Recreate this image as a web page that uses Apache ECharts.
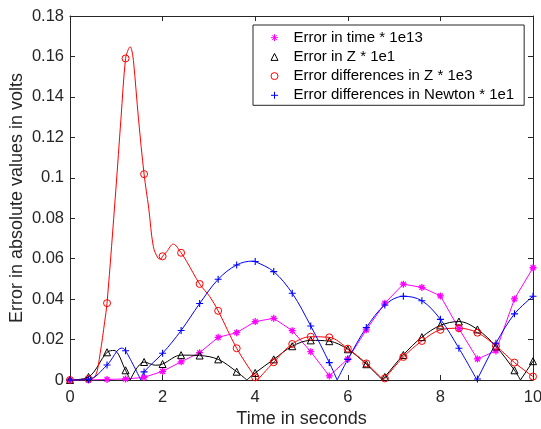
<!DOCTYPE html>
<html><head><meta charset="utf-8">
<script src="https://cdn.jsdelivr.net/npm/echarts@6/dist/echarts.min.js"></script>
<style>html,body{margin:0;padding:0;background:#fff}#c{width:541px;height:429px}</style>
</head><body><div id="c"></div>
<script>
// sample times of the markers (s)
const timeT = [0,0.4,0.8,1.2,1.6,2.0,2.4,2.8,3.2,3.6,4.0,4.4,4.8,5.2,5.6,6.0,6.4,6.8,7.2,7.6,8.0,8.4,8.8,9.2,9.6,10.0];
// Error in time * 1e13
const errTime = [0,0,0.0003,0.0005,0.0013,0.0043,0.009,0.0135,0.0211,0.0234,0.0289,0.0305,0.0244,0.014,0.002,0.0104,0.0248,0.038,0.0474,0.0458,0.0416,0.0254,0.0104,0.0144,0.0401,0.0555];
// Error in Z * 1e1
const errZ = [0,0.0015,0.0137,0.0048,0.0089,0.0079,0.0123,0.0121,0.0102,0.0041,0.0035,0.0102,0.0167,0.0196,0.0192,0.0152,0.0078,0.0015,0.0124,0.0212,0.027,0.0289,0.025,0.0166,0.0048,0.0093];
// Error differences in Z * 1e3
const errDiffZ = [0,0.0005,0.038,0.159,0.1018,0.0612,0.0629,0.0475,0.0342,0.0157,0.0013,0.0088,0.0178,0.0214,0.0211,0.0155,0.0082,0.0008,0.0114,0.0193,0.0248,0.0256,0.0234,0.0168,0.0086,0.0017];
// Error differences in Newton * 1e1
const errNewton = [0,0.0003,0.0074,0.0145,0.004,0.0132,0.0245,0.0378,0.0498,0.0569,0.0586,0.0536,0.0429,0.0267,0.0086,0.0102,0.0259,0.0371,0.0414,0.0392,0.03,0.0157,0.0005,0.0182,0.0327,0.0414];
// extra points of the continuous curves (peaks, dips, zeros)
const errZCurveExtra = [[0.95,0.0146],[1.3,0],[1.85,0.0073],[3.82,0],[6.75,0],[9.73,0]];
const errDiffZCurveExtra = [[0.55,0.002],[0.65,0.013],[0.75,0.029],[0.99,0.094],[1.1,0.129],[1.26,0.1635],[1.3,0.1648],[1.33,0.1635],[1.37,0.158],[1.48,0.129],[1.7,0.085],[1.8,0.066],[1.9,0.0603],[1.96,0.0598],[2.09,0.0635],[2.23,0.0672],[2.52,0.0586],[3.02,0.0412],[4.05,0],[6.77,0]];
const errNewtonCurveExtra = [[1.12,0.0158],[1.53,0],[3.95,0.0588],[5.77,0],[8.79,0]];
// axis ticks
const xTicks = [0,2,4,6,8,10];
const yTicks = [0,0.02,0.04,0.06,0.08,0.1,0.12,0.14,0.16,0.18];
const names = ['Error in time * 1e13','Error in Z * 1e1','Error differences in Z * 1e3','Error differences in Newton * 1e1'];

const FONT = "'Liberation Sans', Arial, sans-serif";
const AX = '#262626';

function pairs(ts, vs){ return ts.map((t,i)=>[t,vs[i]]); }
function merged(ts, vs, extra){ const p = pairs(ts,vs).concat(extra); p.sort((a,b)=>a[0]-b[0]); return p; }
function splitAtZeros(pts){
  const segs=[]; let cur=[];
  pts.forEach((p,i)=>{ cur.push(p); if(p[1]===0 && i>0 && i<pts.length-1 && cur.length>1){ segs.push(cur); cur=[p]; } });
  if(cur.length>1) segs.push(cur);
  return segs;
}
function curveSeries(pts, color, tag){
  return splitAtZeros(pts).map((seg,k)=>({
    type:'line', name: tag+k, data: seg, smooth: 0.35, showSymbol:false, symbol:'none', silent:true,
    lineStyle:{color, width:1}, itemStyle:{color}, z:2, animation:false
  }));
}
const plusPath = 'path://M5,0L5,10M0,5L10,5';
const starPath = 'path://M5,0L5,10M0,5L10,5M1.5,1.5L8.5,8.5M1.5,8.5L8.5,1.5';
const triPath = 'path://M5,0L10,10L0,10Z';
function markerSeries(name, ts, vs, symbol, size, color, bw){
  return { type:'scatter', name, data: pairs(ts,vs), symbol, symbolSize:size, z:4, animation:false,
    itemStyle:{color:'rgba(0,0,0,0)', borderColor:color, borderWidth:bw, opacity:1} };
}

const series = [].concat(
  [{ type:'line', name:'timeLine', data: pairs(timeT, errTime), showSymbol:false, symbol:'none', silent:true,
     lineStyle:{color:'#FF00FF', width:1}, itemStyle:{color:'#FF00FF'}, z:2, animation:false }],
  curveSeries(merged(timeT, errZ, errZCurveExtra), '#000000', 'zLine'),
  curveSeries(merged(timeT, errDiffZ, errDiffZCurveExtra), '#FF0000', 'dzLine'),
  curveSeries(merged(timeT, errNewton, errNewtonCurveExtra), '#0000FF', 'nLine'),
  [markerSeries(names[0], timeT, errTime, starPath, 7, '#FF00FF', 1.3),
   markerSeries(names[1], timeT, errZ, triPath, 7, '#000000', 1),
   markerSeries(names[2], timeT, errDiffZ, 'circle', 7, '#FF0000', 1),
   markerSeries(names[3], timeT, errNewton, plusPath, 7, '#0000FF', 1.1)]
);

const axisCommonX = { type:'value', min:xTicks[0], max:xTicks[xTicks.length-1], interval:xTicks[1]-xTicks[0],
  splitLine:{show:false}, axisLine:{show:true, onZero:false, lineStyle:{color:AX, width:1}},
  axisTick:{show:true, inside:true, length:5, lineStyle:{color:AX}} };
const axisCommonY = { type:'value', min:yTicks[0], max:yTicks[yTicks.length-1], interval:0.02,
  splitLine:{show:false}, axisLine:{show:true, onZero:false, lineStyle:{color:AX, width:1}},
  axisTick:{show:true, inside:true, length:5, lineStyle:{color:AX}} };

const chart = echarts.init(document.getElementById('c'), null, {renderer:'canvas'});
chart.setOption({
  animation:false,
  backgroundColor:'#fff',
  textStyle:{fontFamily:FONT},
  grid:{left:70, right:8, top:16, bottom:49, containLabel:false, outerBoundsMode:'none'},
  xAxis:[
    Object.assign({}, axisCommonX, {position:'bottom', name:'Time in seconds', nameLocation:'middle', nameGap:30, nameMoveOverlap:false,
      nameTextStyle:{color:AX, fontSize:18, fontFamily:FONT},
      axisLabel:{color:AX, fontSize:16.5, margin:9, fontFamily:FONT}}),
    Object.assign({}, axisCommonX, {position:'top', axisLabel:{show:false}})
  ],
  yAxis:[
    Object.assign({}, axisCommonY, {position:'left', name:'Error in absolute values in volts', nameLocation:'middle', nameGap:44, nameMoveOverlap:false,
      nameTextStyle:{color:AX, fontSize:18, fontFamily:FONT},
      axisLabel:{color:AX, fontSize:16.5, margin:6, fontFamily:FONT}}),
    Object.assign({}, axisCommonY, {position:'right', axisLabel:{show:false}})
  ],
  legend:{
    data: names, orient:'vertical', left:253, top:25,
    itemWidth:7, itemHeight:7, itemGap:4.2, symbolKeepAspect:true,
    padding:[5.2,10,2.5,17.5], borderColor:AX, borderWidth:1, backgroundColor:'#fff',
    textStyle:{color:'#000', fontSize:15, lineHeight:15, fontFamily:FONT, padding:[0,0,0,10.5]},
    itemStyle:{borderWidth:1}, selectedMode:false
  },
  series
});
</script></body></html>
